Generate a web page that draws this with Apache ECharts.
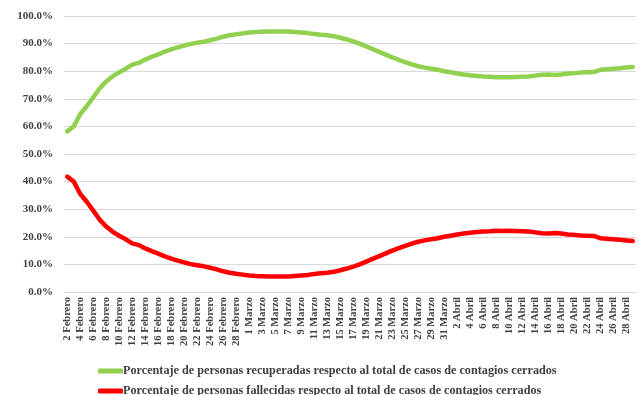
<!DOCTYPE html>
<html>
<head>
<meta charset="utf-8">
<script src="https://cdn.jsdelivr.net/npm/echarts@6/dist/echarts.min.js"></script>
<style>
  html, body { margin: 0; padding: 0; background: #fff; }
  #chart { width: 639px; height: 395px; }
</style>
</head>
<body>
<div id="chart"></div>
<script>
// Daily dates, 2 Febrero .. 29 Abril (2020)
const months = [
  { name: 'Febrero', from: 2, to: 29 },
  { name: 'Marzo', from: 1, to: 31 },
  { name: 'Abril', from: 1, to: 29 }
];
const categories = [];
months.forEach(m => {
  for (let d = m.from; d <= m.to; d++) categories.push(d + ' ' + m.name);
});

// Share of recovered people over all closed cases (%)
const recuperados = [
  58.2, 60.0, 64.5, 67.3, 70.5, 73.8, 76.3, 78.2, 79.6, 80.9,
  82.4, 83.0, 84.2, 85.2, 86.1, 87.1, 87.9, 88.6, 89.3, 89.9,
  90.3, 90.7, 91.2, 91.8, 92.5, 93.0, 93.4, 93.7, 94.0, 94.2,
  94.3, 94.4, 94.4, 94.4, 94.4, 94.2, 94.0, 93.8, 93.5, 93.2,
  93.0, 92.7, 92.1, 91.5, 90.8, 90.0, 89.0, 88.0, 87.0, 86.0,
  85.0, 84.1, 83.3, 82.5, 81.8, 81.3, 80.9, 80.5, 80.0, 79.6,
  79.2, 78.8, 78.5, 78.3, 78.1, 78.0, 77.8, 77.9, 77.8, 77.9,
  78.0, 78.1, 78.4, 78.7, 78.8, 78.6, 78.8, 79.2, 79.3, 79.5,
  79.6, 79.7, 80.5, 80.7, 80.9, 81.1, 81.3, 81.5
];

// Share of deceased people over all closed cases (%)
const fallecidos = [
  41.8, 40.0, 35.5, 32.7, 29.5, 26.2, 23.7, 21.8, 20.4, 19.1,
  17.6, 17.0, 15.8, 14.8, 13.9, 12.9, 12.1, 11.4, 10.7, 10.1,
  9.7, 9.3, 8.8, 8.2, 7.5, 7.0, 6.6, 6.3, 6.0, 5.8,
  5.7, 5.6, 5.6, 5.6, 5.6, 5.8, 6.0, 6.2, 6.5, 6.8,
  7.0, 7.3, 7.9, 8.5, 9.2, 10.0, 11.0, 12.0, 13.0, 14.0,
  15.0, 15.9, 16.7, 17.5, 18.2, 18.7, 19.1, 19.5, 20.0, 20.4,
  20.8, 21.2, 21.5, 21.7, 21.9, 22.0, 22.2, 22.1, 22.2, 22.1,
  22.0, 21.9, 21.6, 21.3, 21.2, 21.4, 21.2, 20.8, 20.7, 20.5,
  20.4, 20.3, 19.5, 19.3, 19.1, 18.9, 18.7, 18.5
];

const seriesNames = [
  'Porcentaje de personas recuperadas respecto al total de casos de contagios cerrados',
  'Porcentaje de personas fallecidas respecto al total de casos de contagios cerrados'
];

const FONT = '"Liberation Serif", "Times New Roman", serif';
const TEXT = '#404040';

// One legend row per series, stacked below the plot
function legendRow(name, top) {
  return {
    orient: 'horizontal',
    left: 98,
    top: top,
    padding: 0,
    itemWidth: 25,
    itemHeight: 5,
    icon: 'roundRect',
    textStyle: {
      color: TEXT,
      fontFamily: FONT,
      fontWeight: 'bold',
      fontSize: 12.2,
      padding: [0, 0, 0, -5]
    },
    data: [name]
  };
}

const chart = echarts.init(document.getElementById('chart'), null, { renderer: 'canvas' });
chart.setOption({
  animation: false,
  backgroundColor: '#ffffff',
  grid: { left: 64, right: 3, top: 16, bottom: 103, containLabel: false },
  xAxis: {
    type: 'category',
    data: categories,
    boundaryGap: true,
    axisLine: { show: true, lineStyle: { color: '#d9d9d9', width: 1 } },
    axisTick: { show: false },
    axisLabel: {
      interval: 1,
      rotate: 90,
      margin: 5,
      color: TEXT,
      fontFamily: FONT,
      fontWeight: 'bold',
      fontSize: 10.5
    }
  },
  yAxis: {
    type: 'value',
    min: 0,
    max: 100,
    interval: 10,
    axisLine: { show: false },
    axisTick: { show: false },
    splitLine: { lineStyle: { color: '#d9d9d9', width: 1 } },
    axisLabel: {
      margin: 11,
      color: TEXT,
      fontFamily: FONT,
      fontWeight: 'bold',
      fontSize: 11,
      formatter: v => v.toFixed(1) + '%'
    }
  },
  legend: [
    legendRow(seriesNames[0], 365),
    legendRow(seriesNames[1], 385)
  ],
  series: [
    {
      name: seriesNames[0],
      type: 'line',
      data: recuperados,
      symbol: 'none',
      color: '#92d050',
      lineStyle: { color: '#92d050', width: 4.5, cap: 'round', join: 'round' }
    },
    {
      name: seriesNames[1],
      type: 'line',
      data: fallecidos,
      symbol: 'none',
      color: '#ff0000',
      lineStyle: { color: '#ff0000', width: 4.5, cap: 'round', join: 'round' }
    }
  ]
});
</script>
</body>
</html>
